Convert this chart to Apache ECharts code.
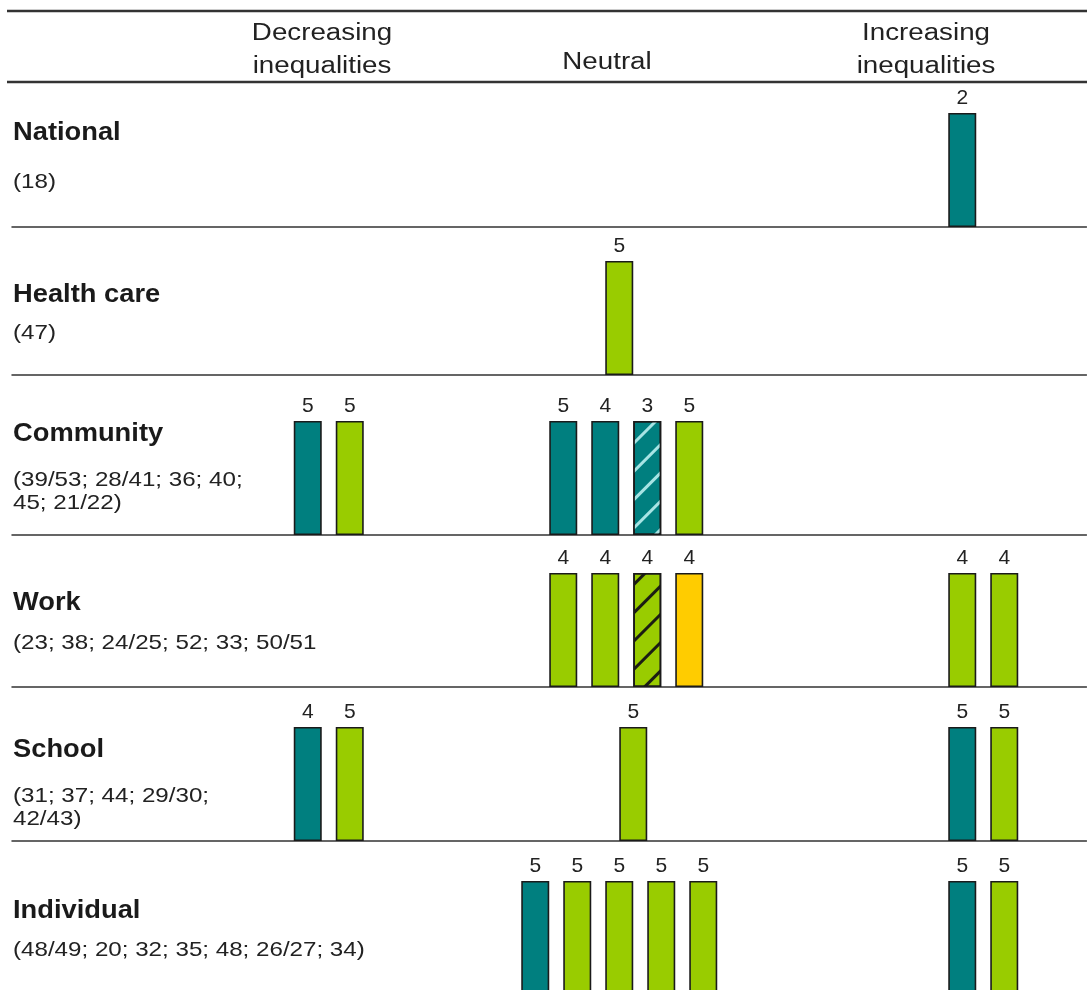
<!DOCTYPE html>
<html><head><meta charset="utf-8">
<script src="https://cdn.jsdelivr.net/npm/echarts@6/dist/echarts.min.js"></script>
<style>html,body{margin:0;padding:0;background:#fff}#c{width:1087px;height:990px}</style>
</head><body><div id="c"></div>
<script>
// ---------------- data ----------------
const rowNames = ['National', 'Health care', 'Community', 'Work', 'School', 'Individual'];
const rowRefs = [
  '(18)',
  '(47)',
  '(39/53; 28/41; 36; 40;\n45; 21/22)',
  '(23; 38; 24/25; 52; 33; 50/51',
  '(31; 37; 44; 29/30;\n42/43)',
  '(48/49; 20; 32; 35; 48; 26/27; 34)'
];
const columnTitles = ['Decreasing\ninequalities', 'Neutral', 'Increasing\ninequalities'];

const decreasingScores = [[], [], [5, 5], [], [4, 5], []];
const decreasingTypes  = [[], [], ['teal', 'green'], [], ['teal', 'green'], []];
const neutralScores = [[], [5], [5, 4, 3, 5], [4, 4, 4, 4], [5], [5, 5, 5, 5, 5]];
const neutralTypes  = [[], ['green'], ['teal', 'teal', 'tealHatch', 'green'],
                       ['green', 'green', 'greenHatch', 'yellow'], ['green'],
                       ['teal', 'green', 'green', 'green', 'green']];
const increasingScores = [[2], [], [], [4, 4], [5, 5], [5, 5]];
const increasingTypes  = [['teal'], [], [], ['green', 'green'], ['teal', 'green'], ['teal', 'green']];

// ---------------- layout (not data) ----------------
const SLOT_COUNT = 307, PITCH = 12;
const decStart = 84, incStart = 271;
const neutralStart = [173, 173, 157, 157, 177, 149];
const rowTop = [113, 261, 421, 573, 727, 881];
const BAR_H = 114;
const nameY = [133, 295, 434, 603, 750, 911];
const refY  = [182, 333, 491.5, 643, 807.5, 950];

const COLORS = { teal: '#007f7f', green: '#99cc00', yellow: '#ffcc00' };
function styleFor(type) {
  const base = type.startsWith('teal') ? COLORS.teal : (type.startsWith('green') ? COLORS.green : COLORS.yellow);
  const st = { color: base, borderColor: '#1a1a1a', borderWidth: 1.6 };
  if (type.endsWith('Hatch')) {
    st.decal = {
      symbol: 'rect', symbolSize: 1,
      color: type === 'tealHatch' ? 'rgba(185,240,240,0.9)' : 'rgba(20,20,20,0.95)',
      dashArrayX: [1, 0], dashArrayY: [3, 17], rotation: -Math.PI / 4
    };
  }
  return st;
}

const slots = Array.from({ length: SLOT_COUNT }, (_, i) => 's' + i);
const grids = [], xAxes = [], yAxes = [], series = [];
rowNames.forEach((name, r) => {
  const data = new Array(SLOT_COUNT).fill(null);
  const place = (scores, types, start) => {
    scores.forEach((s, k) => {
      data[start + k * PITCH] = { value: 1, score: s, itemStyle: styleFor(types[k]) };
    });
  };
  place(decreasingScores[r], decreasingTypes[r], decStart);
  place(neutralScores[r], neutralTypes[r], neutralStart[r]);
  place(increasingScores[r], increasingTypes[r], incStart);

  grids.push({ left: 12, right: 0.5, top: rowTop[r], height: BAR_H, outerBoundsMode: 'none', containLabel: false });
  xAxes.push({
    type: 'category', gridIndex: r, data: slots,
    axisLine: { show: true, lineStyle: { color: '#333', width: 1.5 } },
    axisTick: { show: false }, axisLabel: { show: false }, splitLine: { show: false }
  });
  yAxes.push({ type: 'value', gridIndex: r, min: 0, max: 1, show: false, splitLine: { show: false } });
  series.push({
    type: 'bar', xAxisIndex: r, yAxisIndex: r, data, barWidth: 28, animation: false,
    label: {
      show: true, position: 'top', distance: 4,
      fontFamily: 'Liberation Sans, Arial, sans-serif', fontSize: 21, color: '#222',
      formatter: p => (p.data && p.data.score != null) ? String(p.data.score) : ''
    }
  });
});

const FONT = '"Liberation Sans", Arial, sans-serif';
const graphic = [
  { type: 'line', shape: { x1: 7, y1: 11, x2: 1087, y2: 11 }, style: { stroke: '#333', lineWidth: 2.5 } },
  { type: 'line', shape: { x1: 7, y1: 82, x2: 1087, y2: 82 }, style: { stroke: '#333', lineWidth: 2.5 } },
  { type: 'text', x: 322, y: 50, scaleX: 1.18,
    style: { text: columnTitles[0], font: '23.5px ' + FONT, fill: '#222', align: 'center', verticalAlign: 'middle', lineHeight: 33 } },
  { type: 'text', x: 607, y: 63, scaleX: 1.18,
    style: { text: columnTitles[1], font: '23.5px ' + FONT, fill: '#222', align: 'center', verticalAlign: 'middle', lineHeight: 33 } },
  { type: 'text', x: 926, y: 50, scaleX: 1.18,
    style: { text: columnTitles[2], font: '23.5px ' + FONT, fill: '#222', align: 'center', verticalAlign: 'middle', lineHeight: 33 } }
];
rowNames.forEach((name, r) => {
  graphic.push({ type: 'text', x: 13, y: nameY[r], scaleX: 1.05,
    style: { text: name, font: 'bold 26px ' + FONT, fill: '#1a1a1a', align: 'left', verticalAlign: 'middle' } });
  graphic.push({ type: 'text', x: 13, y: refY[r], scaleX: 1.15,
    style: { text: rowRefs[r], font: '21px ' + FONT, fill: '#222', align: 'left', verticalAlign: 'middle', lineHeight: 23 } });
});

const chart = echarts.init(document.getElementById('c'), null, { renderer: 'canvas' });
chart.setOption({
  animation: false, backgroundColor: '#fff',
  grid: grids, xAxis: xAxes, yAxis: yAxes, series, graphic
});
</script></body></html>
